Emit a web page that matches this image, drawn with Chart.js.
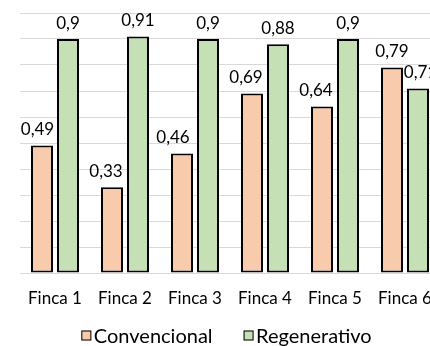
<!DOCTYPE html>
<html>
<head>
<meta charset="utf-8">
<script src="https://cdn.jsdelivr.net/npm/chart.js@4"></script>
<style>
  html, body { margin: 0; padding: 0; overflow: hidden; background: #fff; width: 430px; height: 346px; }
  #wrap { position: absolute; left: 0; top: 0; width: 460px; height: 346px; }
</style>
</head>
<body>
<div id="wrap"><canvas id="c" width="460" height="346"></canvas></div>
<script>
const categories = ['Finca 1', 'Finca 2', 'Finca 3', 'Finca 4', 'Finca 5', 'Finca 6'];
const convencional = [0.49, 0.33, 0.46, 0.69, 0.64, 0.79];
const regenerativo = [0.90, 0.91, 0.90, 0.88, 0.90, 0.71];
const seriesNames = ['Convencional', 'Regenerativo'];

const FONT = 'Lato';

const valueLabels = {
  id: 'valueLabels',
  afterDatasetsDraw(chart, args, opts) {
    const ctx = chart.ctx;
    ctx.save();
    ctx.font = `${opts.size}px ${FONT}`;
    ctx.fillStyle = opts.color;
    ctx.textAlign = 'center';
    ctx.textBaseline = 'alphabetic';
    chart.data.datasets.forEach((ds, di) => {
      const meta = chart.getDatasetMeta(di);
      meta.data.forEach((bar, i) => {
        const txt = String(ds.data[i]).replace('.', ',');
        const dx = (opts.shift[di] && opts.shift[di][i]) || 0;
        ctx.fillText(txt, bar.x + dx, bar.y - opts.gap);
      });
    });
    ctx.restore();
  }
};

const boxLegend = {
  id: 'boxLegend',
  afterDraw(chart, args, opts) {
    const ctx = chart.ctx;
    ctx.save();
    ctx.font = `${opts.size}px ${FONT}`;
    ctx.textBaseline = 'middle';
    ctx.textAlign = 'left';
    const items = chart.data.datasets.map(ds => ({
      text: ds.label, fill: ds.backgroundColor, w: ctx.measureText(ds.label).width
    }));
    let total = 0;
    items.forEach((it, i) => {
      total += opts.box + opts.textGap + it.w + (i < items.length - 1 ? opts.itemGap : 0);
    });
    let x = (chart.chartArea.left + chart.chartArea.right) / 2 + opts.centerShift - total / 2;
    const y = opts.y;
    items.forEach(it => {
      ctx.fillStyle = it.fill;
      ctx.fillRect(x, y - opts.box / 2, opts.box, opts.box);
      ctx.lineWidth = 1;
      ctx.strokeStyle = '#000';
      ctx.strokeRect(x + 0.5, y - opts.box / 2 + 0.5, opts.box - 1, opts.box - 1);
      ctx.fillStyle = '#000';
      ctx.fillText(it.text, x + opts.box + opts.textGap, y + 1);
      x += opts.box + opts.textGap + it.w + opts.itemGap;
    });
    ctx.restore();
  }
};

new Chart(document.getElementById('c'), {
  type: 'bar',
  data: {
    labels: categories,
    datasets: [
      {
        label: seriesNames[0], data: convencional,
        backgroundColor: '#F8CBAD', borderColor: '#000', borderWidth: 2, borderSkipped: false,
        categoryPercentage: 0.743, barPercentage: 0.846
      },
      {
        label: seriesNames[1], data: regenerativo,
        backgroundColor: '#C5E0B4', borderColor: '#000', borderWidth: 2, borderSkipped: false,
        categoryPercentage: 0.743, barPercentage: 0.846
      }
    ]
  },
  options: {
    responsive: false,
    animation: false,
    devicePixelRatio: 1,
    layout: { padding: { left: 20, right: 20, top: 13, bottom: 22.6 } },
    scales: {
      x: {
        grid: { display: false, drawTicks: false },
        border: { display: false },
        ticks: { font: { family: FONT, size: 17 }, color: '#000', padding: 15, maxRotation: 0, autoSkip: false }
      },
      y: {
        min: 0, max: 1,
        grid: { color: '#D9D9D9', lineWidth: 1, drawTicks: false },
        border: { display: false },
        ticks: { display: false, stepSize: 0.1 }
      }
    },
    plugins: {
      legend: { display: false },
      tooltip: { enabled: false },
      valueLabels: {
        size: 17, color: '#000', gap: 10.5,
        shift: [[-4.5, -6, -9, -6, -6, 0], [0, 0, 0, 0, 0, 2.5]]
      },
      boxLegend: { size: 20, box: 10, textGap: 2.5, itemGap: 31, y: 335.5, centerShift: -3.5 }
    }
  },
  plugins: [valueLabels, boxLegend]
});
</script>
</body>
</html>
